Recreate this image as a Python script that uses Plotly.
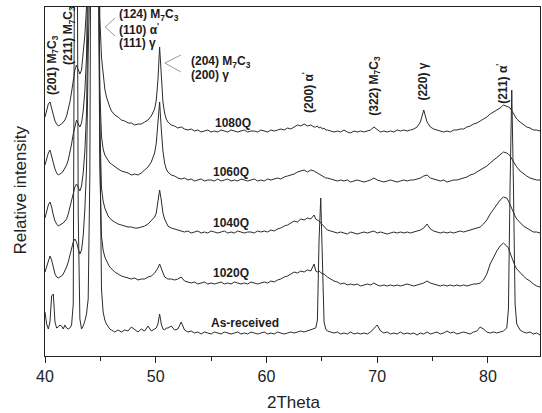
import plotly.graph_objects as go

# 2-theta sampling positions (degrees)
two_theta = [
    40.0, 40.15, 40.3, 40.45, 40.6, 40.75, 40.9, 41.05, 41.2, 41.35,
    41.5, 41.65, 41.8, 41.95, 42.1, 42.25, 42.4, 42.55, 42.7, 42.85,
    43.0, 43.15, 43.3, 43.45, 43.6, 43.75, 43.9, 44.05, 44.2, 44.35,
    44.5, 44.65, 44.8, 44.95, 45.1, 45.25, 45.4, 45.55, 45.7, 45.85,
    46.0, 46.3, 46.6, 46.9, 47.2, 47.5, 47.8, 48.1, 48.4, 48.7, 49.0, 49.3, 49.6, 49.9,
    50.05, 50.2, 50.35, 50.5, 50.65, 50.8, 50.95,
    51.1, 51.4, 51.7, 52.0, 52.3, 52.6, 52.9, 53.2, 53.5, 53.8,
    54.1, 54.4, 54.7, 55.0, 55.3, 55.6, 55.9, 56.2, 56.5, 56.8,
    57.1, 57.4, 57.7, 58.0, 58.3, 58.6, 58.9, 59.2, 59.5, 59.8,
    60.1, 60.4, 60.7, 61.0, 61.3, 61.6, 61.9, 62.2, 62.5, 62.8,
    63.1, 63.4, 63.7, 64.0, 64.3,
    64.45, 64.6, 64.75, 64.9, 65.05, 65.2, 65.35,
    65.5, 65.8, 66.1, 66.4, 66.7, 67.0, 67.3, 67.6, 67.9, 68.2,
    68.5, 68.8, 69.1, 69.4, 69.7, 70.0, 70.3, 70.6, 70.9, 71.2,
    71.5, 71.8, 72.1, 72.4, 72.7, 73.0, 73.3, 73.6, 73.9, 74.2,
    74.5, 74.8, 75.1, 75.4, 75.7, 76.0, 76.3, 76.6, 76.9, 77.2,
    77.5, 77.8, 78.1, 78.4, 78.7, 79.0, 79.3, 79.6, 79.9, 80.2,
    80.5, 80.8, 81.1, 81.4, 81.7,
    81.85, 82.0, 82.15, 82.3, 82.45, 82.6,
    82.9, 83.2, 83.5, 83.8, 84.1, 84.4, 84.7,
]

# Relative intensity of each pattern above its own baseline (a.u.)
counts_1080q = [
    15, 22, 28, 30, 24, 16, 11, 8, 6, 7, 8, 10, 12, 16, 22, 30, 40, 50,
    62, 67, 62, 58, 62, 77, 97, 125, 250, 420, 600, 600, 600, 600, 380, 115, 75, 55, 43, 35, 29, 25,
    21, 17, 15, 12, 11, 9, 9, 7, 8, 8, 10, 12, 16, 23,
    32, 52, 85, 58, 30, 19, 13,
    10, 7, 6, 4, 5, 3, 2, 3, 1, 2, 0, 1, 2, 0, 1, 0, 2, 1, 0, 2,
    1, 0, 1, 2, 0, 1, 1, 0, 2, 1, 0, 2, 1, 2, 3, 2, 4, 3, 5, 7, 6, 8, 6, 7, 5,
    5, 6, 4, 5, 3, 4, 2,
    2, 1, 0, 1, 0, 2, 0, -1, 1, 0, 1, 0, 1, 2, 5, 2, 0, 1, 0, 1,
    0, 2, 1, 2, 1, 2, 3, 5, 10, 22, 10, 5, 3, 2, 1, 0, 1, 0, 2, 2,
    3, 3, 5, 6, 8, 9, 11, 13, 15, 18, 20, 22, 24, 27, 26,
    25, 24, 21, 18, 15, 13,
    10, 7, 5, 4, 2, 2, 1,
]
counts_1060q = [
    16, 22, 28, 31, 25, 17, 12, 8, 6, 7, 8, 10, 13, 16, 21, 28, 37, 47,
    56, 61, 57, 54, 58, 70, 90, 125, 240, 450, 600, 600, 600, 600, 330, 90, 45, 32, 26, 23, 20, 18,
    17, 14, 12, 10, 9, 8, 6, 7, 6, 8, 11, 14, 19, 28,
    38, 56, 79, 52, 30, 18, 12,
    9, 6, 5, 3, 2, 3, 1, 2, 0, 1, 2, 0, 1, 1, 0, 2, 0, 1, 2, 0,
    1, 0, 2, 1, 0, 1, 2, 0, 1, 0, 2, 1, 2, 3, 2, 4, 5, 6, 7, 9, 10, 11, 9, 11, 10,
    9, 8, 7, 6, 5, 4, 3,
    3, 2, 1, 0, 1, 0, 1, -1, 0, 1, 0, -1, 0, 1, 3, 1, 0, -1, 0, 1,
    0, -1, 0, 1, 0, 1, 1, 2, 3, 5, 6, 3, 2, 1, 0, 1, -1, 0, 1, 1,
    2, 3, 4, 6, 7, 9, 11, 13, 15, 18, 21, 24, 26, 29, 28,
    27, 25, 22, 19, 17, 14,
    10, 7, 5, 3, 2, 1, 1,
]
counts_1040q = [
    15, 22, 28, 31, 26, 18, 12, 9, 7, 8, 9, 10, 12, 14, 19, 26, 33, 40,
    46, 49, 45, 42, 47, 60, 82, 120, 240, 480, 600, 600, 600, 600, 350, 110, 45, 32, 25, 20, 17, 15,
    13, 11, 9, 8, 7, 6, 6, 5, 5, 6, 7, 9, 12, 16,
    20, 30, 43, 33, 20, 14, 10,
    7, 5, 4, 3, 2, 1, 2, 0, 1, 2, 0, 1, 0, 2, 1, 0, 1, 2, 0, 1,
    0, 2, 1, 0, 1, 1, 0, 2, 1, 2, 1, 3, 2, 4, 5, 7, 8, 10, 12, 11, 14, 13, 15, 14, 18,
    14, 13, 12, 10, 8, 6, 4,
    3, 2, 1, 0, 1, 0, -1, 1, 0, -1, 0, 1, 0, 1, 2, 0, 1, 0, -1, 0,
    1, 0, 1, 0, 1, 0, 1, 2, 3, 5, 9, 4, 2, 1, 0, 1, 0, 1, 0, 1,
    2, 1, 2, 3, 4, 5, 6, 9, 13, 19, 24, 29, 33, 36, 35,
    32, 28, 24, 20, 17, 14,
    10, 7, 5, 3, 1, 1, 0,
]
counts_1020q = [
    12, 18, 24, 28, 24, 16, 10, 7, 6, 7, 8, 10, 13, 17, 22, 29, 36, 42,
    45, 42, 35, 30, 34, 48, 75, 115, 230, 480, 600, 600, 600, 600, 360, 120, 48, 34, 27, 23, 20, 17,
    15, 12, 10, 8, 7, 6, 5, 6, 4, 5, 5, 7, 8, 11,
    13, 16, 20, 15, 10, 7, 6,
    5, 5, 4, 5, 7, 3, 2, 1, 2, 0, 1, 2, 0, 1, 0, 1, 2, 0, 1, 0,
    2, 1, 0, 1, 0, 2, 1, 0, 1, 2, 1, 3, 2, 4, 5, 7, 8, 10, 12, 11, 13, 12, 14, 13, 20,
    13, 12, 13, 11, 10, 10, 8,
    7, 5, 3, 2, 0, 1, -1, 0, -1, 0, -2, -1, 0, -1, 1, -1, -2, -1, -2, -1,
    -2, -1, -2, -1, 0, -1, -2, -1, 0, 1, 3, 1, 0, -1, -2, -1, -2, -1, -2, -1,
    -2, -1, -2, -1, 0, 0, 1, 4, 10, 20, 27, 33, 38, 41, 38,
    36, 31, 26, 22, 18, 15,
    12, 8, 5, 3, 0, -2, -3,
]
counts_as_received = [
    22, 10, 5, 12, 38, 40, 12, 6, 7, 9, 8, 5, 9, 6, 5, 6, 9, 30,
    500, 600, 120, 15, 5, 8, 13, 20, 35, 160, 600, 600, 600, 600, 600, 200, 45, 22, 14, 10, 7, 5,
    4, 2, 4, 2, 4, 3, 7, 4, 2, 5, 3, 8, 3, 5,
    6, 10, 20, 10, 5, 4, 6,
    6, 8, 4, 5, 12, 4, 2, 3, 1, 2, 0, 2, 1, 0, 2, 1, 0, 2, 1, 0,
    1, 2, 0, 1, 0, 2, 1, 0, 1, 2, 0, 1, 0, 2, 1, 0, 1, 2, 1, 2, 3, 2, 3, 4, 5,
    6, 14, 95, 136, 60, 12, 5,
    3, 2, 1, 2, 0, 1, 0, 2, 0, 1, 0, 1, 0, 2, 6, 9, 3, 1, 2, 0,
    1, 0, 2, 0, 1, 0, 1, -1, 1, 0, 2, 0, 1, 2, 0, 1, 3, 1, 2, 0,
    1, 2, 1, 0, 2, 3, 7, 5, 2, 1, 2, 1, 2, 3, 6,
    25, 150, 244, 150, 30, 10,
    4, 2, 1, 2, 0, 1, -1,
]

sample_names = ["1080Q", "1060Q", "1040Q", "1020Q", "As-received"]
patterns = [counts_1080q, counts_1060q, counts_1040q, counts_1020q, counts_as_received]
# vertical stacking offset of each pattern
offsets = [224, 175, 123, 72, 22]

for p in patterns:
    assert len(p) == len(two_theta)

line_color = "#2b2b2b"
text_color = "#1c1c1c"
font_family = "Liberation Sans, Arial, sans-serif"

fig = go.Figure()
for name, counts, off in zip(sample_names, patterns, offsets):
    fig.add_trace(go.Scatter(
        x=two_theta, y=[off + c for c in counts], mode="lines", name=name,
        line=dict(color=line_color, width=1), showlegend=False,
    ))

M7C3 = "M<sub>7</sub>C<sub>3</sub>"
ALPHA = "\u03b1<sup>'</sup>"
GAMMA = "\u03b3"

annotations = []


def label(text, x, y, angle=0, xanchor="center", size=12):
    annotations.append(dict(
        text=text, x=x, y=y, xref="x", yref="y", showarrow=False,
        textangle=angle, xanchor=xanchor, yanchor="middle",
        font=dict(family=font_family, size=size, color=text_color, weight="bold"),
    ))


# sample names above each pattern
label_pos = [(57.0, 233), (56.8, 184), (56.8, 133), (56.8, 83), (58.1, 33)]
for name, (lx, ly) in zip(sample_names, label_pos):
    label(name, lx, ly)

# reflection labels
label("(201) " + M7C3, 40.72, 291, angle=-90)
label("(211) " + M7C3, 42.17, 320, angle=-90)
label("(124) " + M7C3, 46.5, 341, xanchor="left")
label("(110) " + ALPHA, 46.5, 327, xanchor="left")
label("(111) " + GAMMA, 46.5, 313, xanchor="left")
label("(204) " + M7C3, 53.0, 294, xanchor="left")
label("(200) " + GAMMA, 53.0, 281, xanchor="left")
label("(200) " + ALPHA, 63.74, 264, angle=-90)
label("(322) " + M7C3, 69.78, 270, angle=-90)
label("(220) " + GAMMA, 74.1, 274, angle=-90)
label("(211) " + ALPHA, 81.25, 272, angle=-90)

# axis titles
annotations.append(dict(
    text="Relative intensity", x=-0.05, y=0.475, xref="paper", yref="paper",
    showarrow=False, textangle=-90, xanchor="center", yanchor="middle",
    font=dict(family=font_family, size=17, color="#222222"),
))
annotations.append(dict(
    text="2Theta", x=0.503, y=-0.132, xref="paper", yref="paper",
    showarrow=False, xanchor="center", yanchor="middle",
    font=dict(family=font_family, size=17, color="#222222"),
))

# "<" brackets grouping the stacked labels
bracket = dict(color="#9a9a9a", width=1)
shapes = [
    dict(type="line", xref="x", yref="y", x0=45.43, y0=329, x1=46.33, y1=338, line=bracket),
    dict(type="line", xref="x", yref="y", x0=45.43, y0=329, x1=46.33, y1=320, line=bracket),
    dict(type="line", xref="x", yref="y", x0=50.83, y0=293, x1=52.27, y1=301, line=bracket),
    dict(type="line", xref="x", yref="y", x0=50.83, y0=293, x1=52.27, y1=284, line=bracket),
]

fig.update_layout(
    width=542, height=413,
    margin=dict(l=45, r=2, t=7, b=57),
    paper_bgcolor="white", plot_bgcolor="white",
    annotations=annotations, shapes=shapes,
    xaxis=dict(
        range=[40, 84.7], tickmode="array", tickvals=[40, 50, 60, 70, 80],
        ticks="outside", ticklen=6, tickwidth=1.2, tickcolor="#222222",
        minor=dict(tickvals=[45, 55, 65, 75], ticks="outside", ticklen=4, tickcolor="#222222"),
        showline=True, linecolor="#222222", linewidth=1.3, mirror=True,
        showgrid=False, zeroline=False,
        tickfont=dict(family=font_family, size=16, color="#222222"),
    ),
    yaxis=dict(
        range=[0, 349], showticklabels=False, ticks="",
        showline=True, linecolor="#222222", linewidth=1.3, mirror=True,
        showgrid=False, zeroline=False,
    ),
)

fig.write_html("out.html")
